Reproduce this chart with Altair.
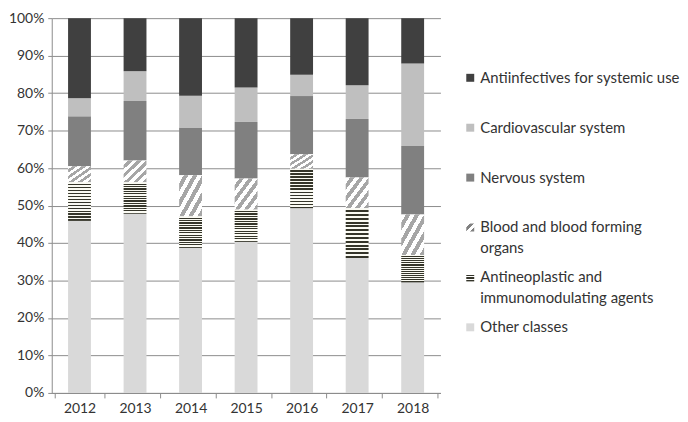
import altair as alt
import pandas as pd

years = ["2012", "2013", "2014", "2015", "2016", "2017", "2018"]
categories = [
    "Other classes",
    "Antineoplastic and immunomodulating agents",
    "Blood and blood forming organs",
    "Nervous system",
    "Cardiovascular system",
    "Antiinfectives for systemic use",
]
other = [45.9, 47.8, 38.7, 40.3, 49.3, 36.0, 29.5]
antineo = [10.3, 8.4, 8.4, 8.6, 10.5, 13.3, 7.3]
blood = [4.3, 5.8, 11.0, 8.3, 3.9, 8.2, 10.8]
nervous = [13.3, 15.9, 12.7, 15.1, 15.5, 15.6, 18.3]
cardio = [4.8, 7.9, 8.5, 9.2, 5.7, 9.0, 22.0]
anti = [21.4, 14.2, 20.7, 18.5, 15.1, 17.9, 12.1]
series = [other, antineo, blood, nervous, cardio, anti]

legend_order = [
    "Antiinfectives for systemic use",
    "Cardiovascular system",
    "Nervous system",
    "Blood and blood forming organs",
    "Antineoplastic and immunomodulating agents",
    "Other classes",
]
legend_line1 = ["Antiinfectives for systemic use", "Cardiovascular system", "Nervous system",
                " Blood and blood forming", "Antineoplastic and", "Other classes"]
legend_line2 = ["", "", "", "organs", "immunomodulating agents", ""]

solid_cats = ["Other classes", "Nervous system", "Cardiovascular system", "Antiinfectives for systemic use"]
solid_colors = ["#d9d9d9", "#808080", "#bfbfbf", "#404040"]

FONT = "Lato"
TXT = "#333333"

rows = []
for i, yr in enumerate(years):
    for k, (c, vals) in enumerate(zip(categories, series)):
        rows.append({"year": yr, "category": c, "order": k, "value": vals[i]})
df = pd.DataFrame(rows)


def stripes(n, c1, c2, x2, y2, frac=0.5):
    stops = []
    for i in range(n):
        a = i / n
        b = (i + frac) / n
        e = (i + 1) / n
        stops += [alt.GradientStop(offset=a, color=c1), alt.GradientStop(offset=b, color=c1),
                  alt.GradientStop(offset=b, color=c2), alt.GradientStop(offset=e, color=c2)]
    return alt.LinearGradient(gradient="linear", stops=stops, x1=0, y1=0, x2=x2, y2=y2)


hstripe = stripes(13, "#fbfbf3", "#35352a", 0, 1)
dstripe = stripes(5, "#ffffff", "#a6a6a6", 1, 1)

base = alt.Chart(df).transform_stack(
    stack="value", groupby=["year"], as_=["y0", "y1"],
    sort=[alt.SortField(field="order", order="ascending")], offset="normalize",
)

x_enc = alt.X("year:N", title=None, sort=years,
              axis=alt.Axis(labelAngle=0, tickBand="extent", grid=False, domainColor="#8c8c8c",
                            tickColor="#8c8c8c", tickSize=5, labelPadding=4, labelFont=FONT,
                            labelFontSize=14, labelColor=TXT))
y_enc = alt.Y("y0:Q", title=None, scale=alt.Scale(domain=[0, 1]),
              axis=alt.Axis(format=".0%", values=[i / 10 for i in range(11)], grid=True,
                            gridColor="#8c8c8c", domainColor="#8c8c8c", tickColor="#8c8c8c",
                            tickSize=4, labelPadding=4, labelFont=FONT, labelFontSize=14,
                            labelColor=TXT))

solid = base.transform_filter(
    alt.FieldOneOfPredicate(field="category", oneOf=solid_cats)
).mark_bar(width=23).encode(
    x=x_enc, y=y_enc, y2="y1:Q",
    color=alt.Color("category:N", scale=alt.Scale(domain=solid_cats, range=solid_colors), legend=None),
)
blood_layer = base.transform_filter(
    alt.datum.category == "Blood and blood forming organs"
).mark_bar(width=23, fill=dstripe).encode(x=x_enc, y=y_enc, y2="y1:Q")
anti_layer = base.transform_filter(
    alt.datum.category == "Antineoplastic and immunomodulating agents"
).mark_bar(width=23, fill=hstripe).encode(x=x_enc, y=y_enc, y2="y1:Q")

main = alt.layer(solid, blood_layer, anti_layer).properties(width=391, height=377)

# Legend panel
ldf = pd.DataFrame({"category": legend_order, "l1": legend_line1, "l2": legend_line2})
ly = alt.Y("category:N", sort=legend_order, axis=None,
           scale=alt.Scale(type="point", domain=legend_order, range=[60, 311], padding=0))
lbase = alt.Chart(ldf)
sym_solid = lbase.transform_filter(
    alt.FieldOneOfPredicate(field="category", oneOf=solid_cats)
).mark_square(size=64, opacity=1).encode(
    x=alt.value(30), y=ly,
    color=alt.Color("category:N", scale=alt.Scale(domain=solid_cats, range=solid_colors), legend=None),
)
sym_blood = lbase.transform_filter(
    alt.datum.category == "Blood and blood forming organs"
).mark_square(size=64, opacity=1, fill=stripes(2, "#ffffff", "#808080", 1, 1)).encode(x=alt.value(30), y=ly)
sym_anti = lbase.transform_filter(
    alt.datum.category == "Antineoplastic and immunomodulating agents"
).mark_square(size=64, opacity=1, fill=stripes(3, "#ffffff", "#35352a", 0, 1)).encode(x=alt.value(30), y=ly)
txt1 = lbase.mark_text(align="left", baseline="middle", font=FONT, fontSize=15, color=TXT).encode(
    x=alt.value(40), y=ly, text="l1:N")
txt2 = lbase.mark_text(align="left", baseline="middle", font=FONT, fontSize=15, color=TXT, dy=21).encode(
    x=alt.value(40), y=ly, text="l2:N")
legend = alt.layer(sym_solid, sym_blood, sym_anti, txt1, txt2).properties(width=228, height=377)

chart = alt.hconcat(main, legend, spacing=0).resolve_scale(color="independent").properties(
    padding={"top": 2, "left": 0, "right": 0, "bottom": 0}
).configure_view(stroke=None)

chart.save("out.html", embed_options={"renderer": "svg", "actions": False})
